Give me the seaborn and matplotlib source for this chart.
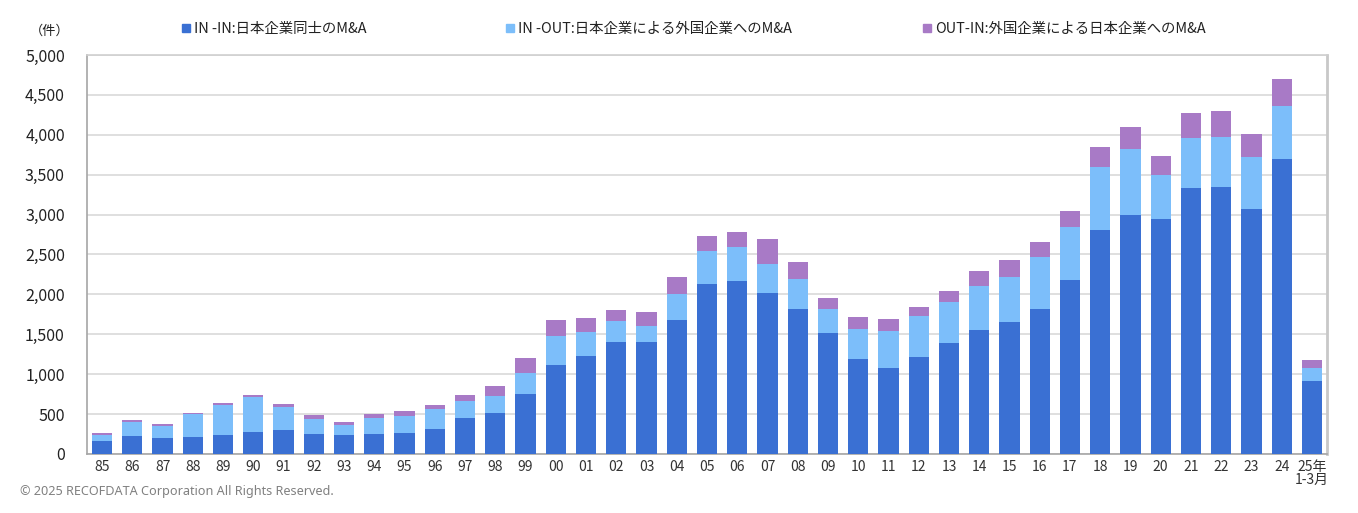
import numpy as np
import pandas as pd
import matplotlib
matplotlib.use("Agg")
import matplotlib.pyplot as plt
from matplotlib.lines import Line2D
from matplotlib.ticker import FuncFormatter, FixedLocator
import seaborn as sns

# 年（1985〜2025年1-3月）
years = ["85", "86", "87", "88", "89", "90", "91", "92", "93", "94",
         "95", "96", "97", "98", "99", "00", "01", "02", "03", "04",
         "05", "06", "07", "08", "09", "10", "11", "12", "13", "14",
         "15", "16", "17", "18", "19", "20", "21", "22", "23", "24",
         "25年\n1-3月"]

# IN-IN：日本企業同士のM&A
in_in = [161, 223, 198, 211, 235, 273, 297, 248, 235, 248,
         260, 310, 446, 508, 752, 1115, 1228, 1403, 1403, 1679,
         2130, 2168, 2017, 1817, 1516, 1190, 1078, 1215, 1391, 1554,
         1655, 1817, 2181, 2808, 2996, 2946, 3334, 3347, 3071, 3698,
         915]
# IN-OUT：日本企業による外国企業へのM&A
in_out = [74, 173, 149, 285, 385, 446, 298, 186, 124, 198,
          211, 248, 223, 223, 263, 364, 301, 264, 201, 326,
          414, 426, 364, 376, 301, 376, 463, 514, 514, 552,
          564, 652, 664, 789, 827, 551, 627, 626, 652, 664,
          163]
# OUT-IN：外国企業による日本企業へのM&A
out_in = [25, 25, 25, 24, 24, 24, 37, 49, 37, 50,
          62, 62, 74, 124, 188, 200, 175, 137, 175, 213,
          188, 188, 313, 213, 138, 151, 151, 113, 138, 188,
          213, 188, 201, 251, 276, 238, 313, 326, 288, 338,
          100]

labels = ["IN -IN:日本企業同士のM&A",
          "IN -OUT:日本企業による外国企業へのM&A",
          "OUT-IN:外国企業による日本企業へのM&A"]
colors = ["#3A70D3", "#7CBEFA", "#A87AC6"]

df = pd.DataFrame({"year": years, "in_in": in_in, "in_out": in_out, "out_in": out_in})
df["lvl1"] = df["in_in"]
df["lvl2"] = df["in_in"] + df["in_out"]
df["lvl3"] = df["lvl2"] + df["out_in"]

sns.set_style("white")
plt.rcParams["font.family"] = ["Noto Sans CJK JP", "DejaVu Sans"]

fig = plt.figure(figsize=(13.58, 5.13), dpi=100)
ax = fig.add_axes([87 / 1358, 1 - 454 / 513, (1327 - 87) / 1358, (454 - 55) / 513])

# 積み上げ：合計から順に重ねて描く
for col, c in zip(["lvl3", "lvl2", "lvl1"], colors[::-1]):
    sns.barplot(data=df, x="year", y=col, order=years, color=c,
                width=0.67, saturation=1, linewidth=0, ax=ax, zorder=3)

ax.set_xlim(-0.5, len(years) - 0.5)
ax.set_ylim(0, 5000)
ax.set_yticks(np.arange(0, 5001, 500))
ax.yaxis.set_major_formatter(FuncFormatter(lambda v, p: f"{int(v):,}"))
ax.grid(axis="y", color="#d9d9d9", linewidth=1.2, zorder=0)
ax.set_axisbelow(True)
ax.set_xlabel("")
ax.set_ylabel("")

ax.tick_params(axis="y", length=0, pad=16, labelsize=11.5, labelcolor="#222222")
ax.tick_params(axis="x", which="major", length=0, pad=4, labelsize=10, labelcolor="#333333")
ax.xaxis.set_minor_locator(FixedLocator(np.arange(0.5, len(years) - 1, 1)))
ax.tick_params(axis="x", which="minor", length=3, width=1, color="#b0b0b0")
for t in ax.get_xticklabels():
    t.set_linespacing(0.95)

for s in ["left", "bottom"]:
    ax.spines[s].set_color("#a6a6a6")
    ax.spines[s].set_linewidth(1.2)
ax.spines["top"].set_color("#d0d0d0")
ax.spines["top"].set_linewidth(1.2)
ax.spines["right"].set_color("#c8c8c8")
ax.spines["right"].set_linewidth(2)

# 凡例
leg_x = [182 / 1358, 506 / 1358, 923 / 1358]
for lab, c, x in zip(labels, colors, leg_x):
    h = Line2D([], [], marker="s", linestyle="none", markersize=6,
               markerfacecolor=c, markeredgecolor=c)
    lg = fig.legend([h], [lab], loc="center left", bbox_to_anchor=(x, 1 - 29 / 513),
                    frameon=False, borderpad=0, borderaxespad=0,
                    handlelength=0.6, handletextpad=0.25, fontsize=10.4)
    for t in lg.get_texts():
        t.set_color("#222222")

fig.text(50 / 1358, 1 - 31 / 513, "（件）", fontsize=9.5, ha="center", va="center", color="#222222")
fig.text(20 / 1358, 1 - 492 / 513, "© 2025 RECOFDATA Corporation All Rights Reserved.",
         fontsize=9.1, ha="left", va="center", color="#808080", family=["Noto Sans", "DejaVu Sans"])

fig.savefig("out.png", dpi=100)
